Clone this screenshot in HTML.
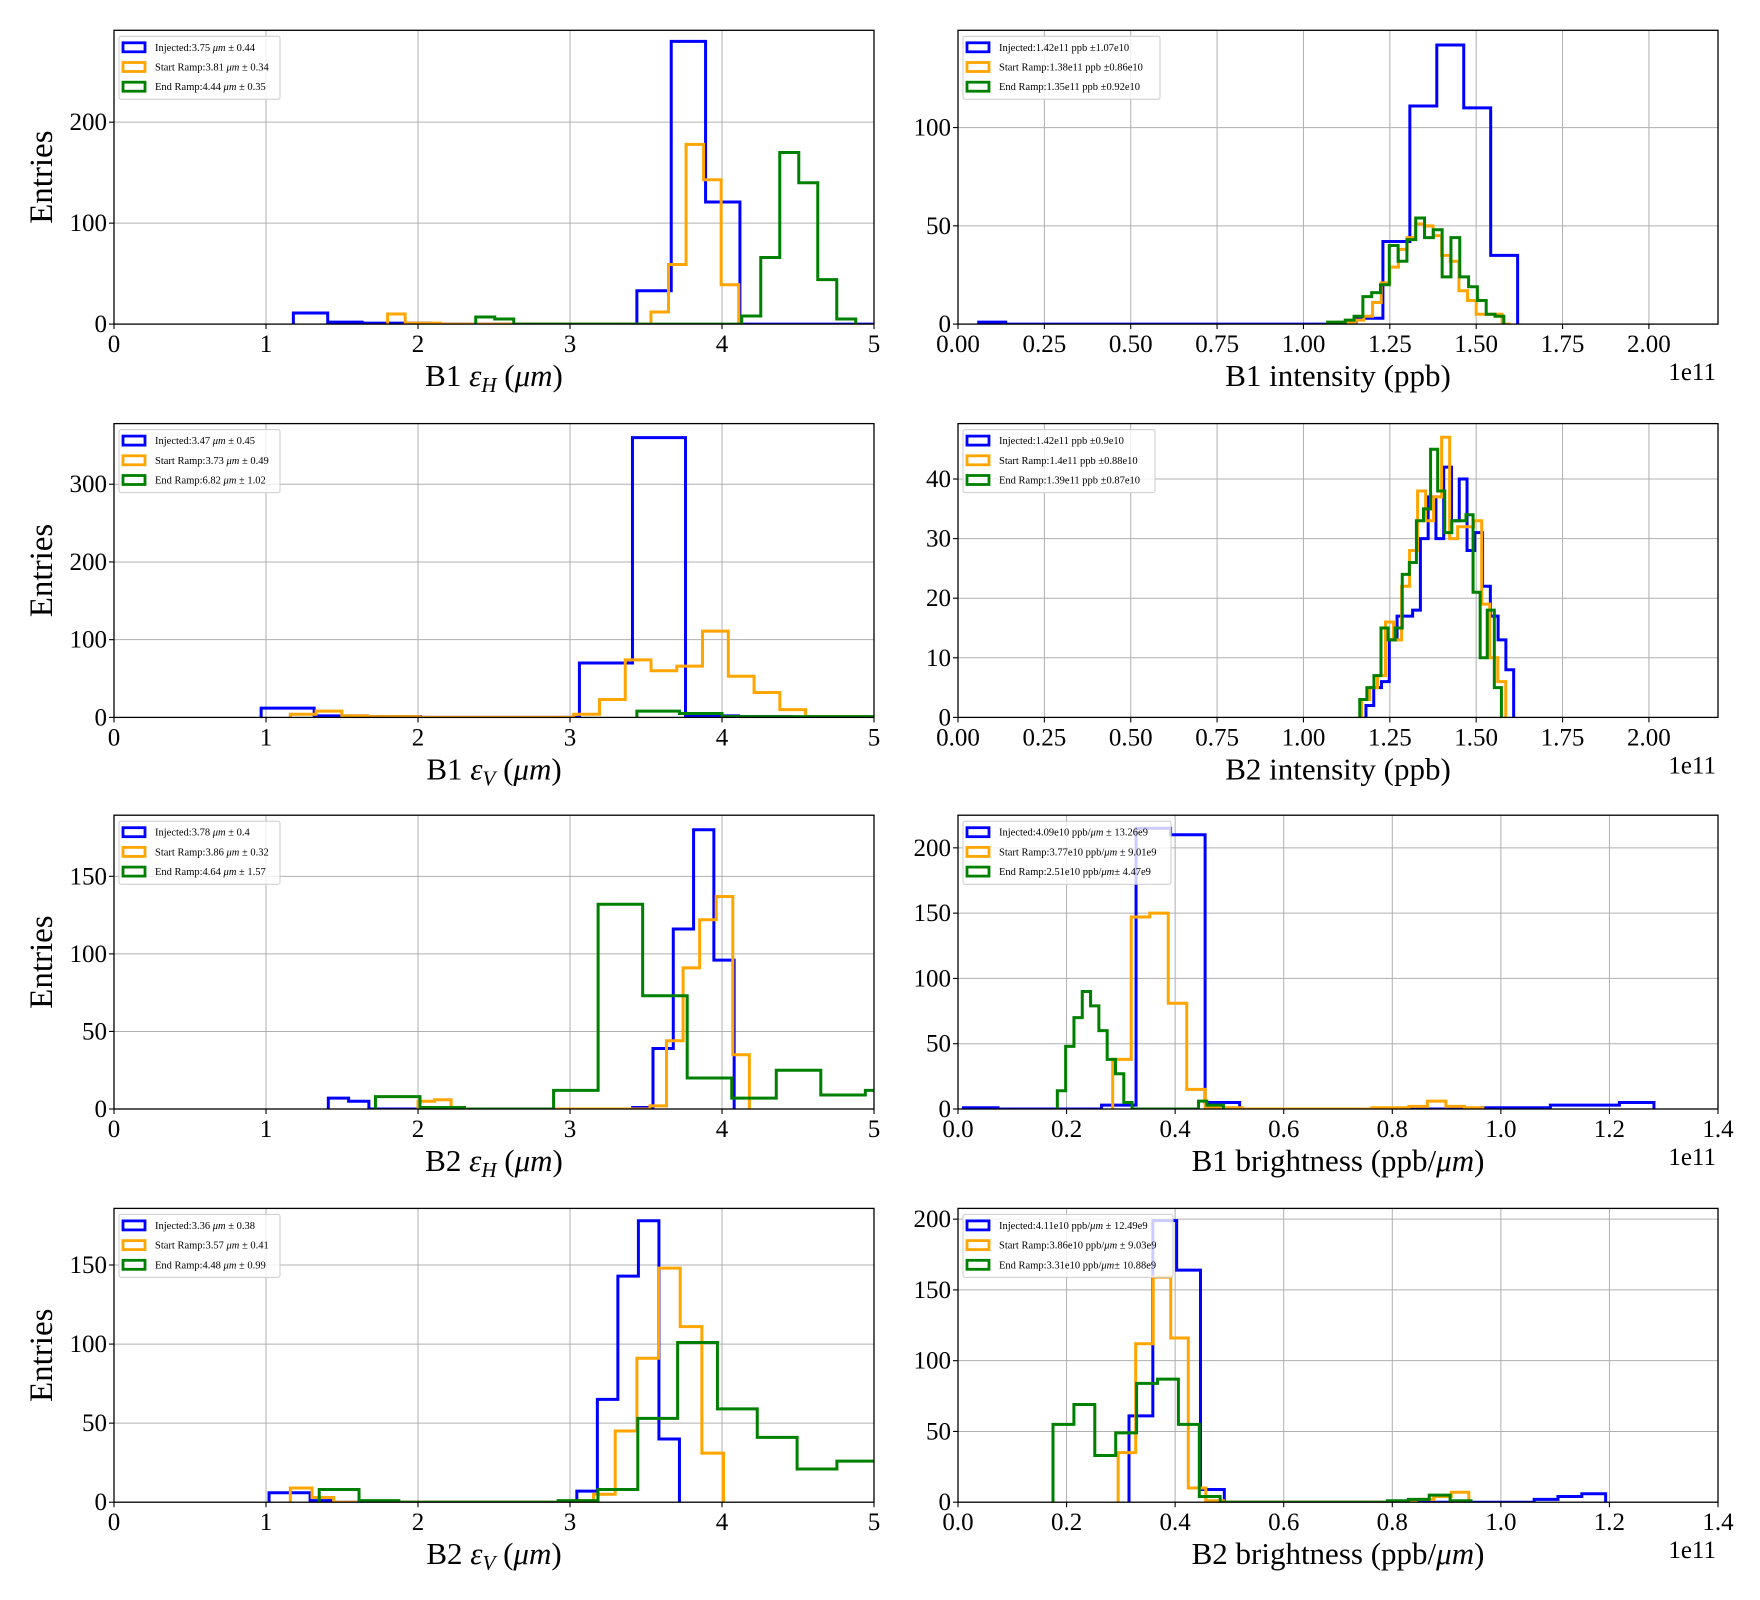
<!DOCTYPE html>
<html><head><meta charset="utf-8">
<style>
html,body{margin:0;padding:0;background:#fff;}
svg{display:block;font-family:"Liberation Serif","DejaVu Serif",serif;}
</style></head>
<body>
<svg id="fig" width="1760" height="1600" viewBox="0 0 1760 1600" xmlns="http://www.w3.org/2000/svg"></svg>
<script>
// ---------- data ----------
const epsTicks = [0,1,2,3,4,5];
const intTicks = [0.00,0.25,0.50,0.75,1.00,1.25,1.50,1.75,2.00];
const intTickLabels = ["0.00","0.25","0.50","0.75","1.00","1.25","1.50","1.75","2.00"];
const briTicks = [0.0,0.2,0.4,0.6,0.8,1.0,1.2,1.4];
const briTickLabels = ["0.0","0.2","0.4","0.6","0.8","1.0","1.2","1.4"];

// Panel 1: B1 eps_H
const p1Y = [0,100,200];
const p1BlueBins = [1.18,0.226]; const p1Blue = [11,2,1,1,0,0,0,0,0,0,33,280,121,0,0,0,0,0];
const p1OrangeBins = [1.8,0.1155]; const p1Orange = [10,1,1,0,0,0,0,0,0,0,0,0,0,0,0,12,59,178,143,39];
const p1GreenBins = [2.38,0.125]; const p1Green = [7,5,0,0,0,0,0,0,0,0,0,0,0,0,8,66,170,140,44,5];
const p1Legend = ["Injected:3.75 μm ± 0.44","Start Ramp:3.81 μm ± 0.34","End Ramp:4.44 μm ± 0.35"];

// Panel 2: B1 intensity
const p2Y = [0,50,100];
const p2BlueBins = [0.06,0.078]; const p2Blue = [1,0,0,0,0,0,0,0,0,0,0,0,0,0,3,42,111,142,110,35];
const p2OrangeBins = [1.10,0.025]; const p2Orange = [0,1,2,4,11,21,29,38,44,51,50,45,35,32,17,12,5,5,5,0];
const p2GreenBins = [1.07,0.0255]; const p2Green = [1,1,2,4,14,16,20,40,32,43,54,44,48,24,44,24,19,12,5,4];
const p2Legend = ["Injected:1.42e11 ppb ±1.07e10","Start Ramp:1.38e11 ppb ±0.86e10","End Ramp:1.35e11 ppb ±0.92e10"];

// Panel 3: B1 eps_V
const p3Y = [0,100,200,300];
const p3BlueBins = [0.968,0.349]; const p3Blue = [12,2,1,0,0,0,70,360,2,1,0,0];
const p3OrangeBins = [1.16,0.1695]; const p3Orange = [4,8,2,1,1,0,0,0,0,0,0,4,23,74,60,66,111,53,32,10,1,1,1];
const p3GreenBins = [3.44,0.28]; const p3Green = [8,5,1,1,1,1];
const p3Legend = ["Injected:3.47 μm ± 0.45","Start Ramp:3.73 μm ± 0.49","End Ramp:6.82 μm ± 1.02"];

// Panel 4: B2 intensity
const p4Y = [0,10,20,30,40];
const p4BlueBins = [1.181,0.0225]; const p4Blue = [2,5,6,13,17,17,18,30,37,30,42,33,40,28,31,22,17,13,8];
const p4OrangeBins = [1.168,0.0232]; const p4Orange = [3,5,7,16,13,22,28,38,33,37,47,30,32,32,33,19,10,6];
const p4GreenBins = [1.163,0.0205]; const p4Green = [3,5,7,15,13,15,24,26,33,35,45,38,31,33,33,34,21,10,18,5];
const p4Legend = ["Injected:1.42e11 ppb ±0.9e10","Start Ramp:1.4e11 ppb ±0.88e10","End Ramp:1.39e11 ppb ±0.87e10"];

// Panel 5: B2 eps_H
const p5Y = [0,50,100,150];
const p5BlueBins = [1.41,0.1335]; const p5Blue = [7,5,0,0,0,0,0,0,0,0,0,0,0,0,0,1,39,116,180,96];
const p5OrangeBins = [2.0,0.109]; const p5Orange = [5,6,0,0,0,0,0,0,0,0,0,0,0,0,2,44,91,122,137,35];
const p5GreenBins = [1.72,0.293]; const p5Green = [8,1,0,0,12,132,73,20,7,25,9,12];
const p5Legend = ["Injected:3.78 μm ± 0.4","Start Ramp:3.86 μm ± 0.32","End Ramp:4.64 μm ± 1.57"];

// Panel 6: B1 brightness
const p6Y = [0,50,100,150,200];
const p6BlueBins = [0.01,0.0636]; const p6Blue = [1,0,0,0,3,215,210,5,0,0,0,0,0,0,0,1,1,3,3,5];
const p6OrangeBins = [0.285,0.0341]; const p6Orange = [38,147,150,81,15,1,1,0,0,0,0,0,0,0,1,1,2,6,2,1];
const p6GreenBins = [0.183,0.0153]; const p6Green = [14,48,70,90,79,60,38,27,5,0,0,0,0,0,0,0,0,6,3,3];
const p6Legend = ["Injected:4.09e10 ppb/μm ± 13.26e9","Start Ramp:3.77e10 ppb/μm ± 9.01e9","End Ramp:2.51e10 ppb/μm± 4.47e9"];

// Panel 7: B2 eps_V
const p7Y = [0,50,100,150];
const p7BlueBins = [1.02,0.135]; const p7Blue = [6,6,1,0,0,0,0,0,0,0,0,0,0,0,0,7,65,143,178,40];
const p7OrangeBins = [1.16,0.1425]; const p7Orange = [9,3,0,0,0,0,0,0,0,0,0,0,0,0,5,45,91,148,111,31];
const p7GreenBins = [1.35,0.262]; const p7Green = [8,1,0,0,0,0,1,8,53,101,59,41,21,26,6];
const p7Legend = ["Injected:3.36 μm ± 0.38","Start Ramp:3.57 μm ± 0.41","End Ramp:4.48 μm ± 0.99"];

// Panel 8: B2 brightness
const p8Y = [0,50,100,150,200];
const p8BlueBins = [0.315,0.0439]; const p8Blue = [61,199,164,9,0,0,0,0,0,0,0,0,0,0,0,0,0,2,4,6];
const p8OrangeBins = [0.295,0.0323]; const p8Orange = [35,112,159,116,10,1,0,0,0,0,0,0,0,0,0,0,0,2,4,7];
const p8GreenBins = [0.175,0.0385]; const p8Green = [55,69,33,49,84,87,55,4,0,0,0,0,0,0,0,0,1,2,5,1];
const p8Legend = ["Injected:4.11e10 ppb/μm ± 12.49e9","Start Ramp:3.86e10 ppb/μm ± 9.03e9","End Ramp:3.31e10 ppb/μm± 10.88e9"];

// ---------- layout ----------
const NS = "http://www.w3.org/2000/svg";
const svg = document.getElementById('fig');
const COLORS = ["#0000ff","#ffa500","#008000"];
const LEFT = [114, 874], RIGHT = [958, 1718];
const TOPS = [30.3, 423.6, 815.2, 1208.4];
const H = 293.8;

function mk(tag, attrs, parent){
  const e = document.createElementNS(NS, tag);
  for (const k in attrs) e.setAttribute(k, attrs[k]);
  (parent||svg).appendChild(e);
  return e;
}

const panels = [
  {id:1, cols:LEFT, top:TOPS[0], xmax:5, ymax:291, xt:epsTicks, xtl:epsTicks.map(String), yt:p1Y, series:[[p1BlueBins,p1Blue],[p1OrangeBins,p1Orange],[p1GreenBins,p1Green]], legend:p1Legend, lw:161, label:["B1","H"], entries:true},
  {id:2, cols:RIGHT, top:TOPS[0], xmax:2.2, ymax:149.5, xt:intTicks, xtl:intTickLabels, yt:p2Y, series:[[p2BlueBins,p2Blue],[p2OrangeBins,p2Orange],[p2GreenBins,p2Green]], legend:p2Legend, lw:197, label:"B1 intensity (ppb)", exp:true},
  {id:3, cols:LEFT, top:TOPS[1], xmax:5, ymax:378, xt:epsTicks, xtl:epsTicks.map(String), yt:p3Y, series:[[p3BlueBins,p3Blue],[p3OrangeBins,p3Orange],[p3GreenBins,p3Green]], legend:p3Legend, lw:161, label:["B1","V"], entries:true},
  {id:4, cols:RIGHT, top:TOPS[1], xmax:2.2, ymax:49.3, xt:intTicks, xtl:intTickLabels, yt:p4Y, series:[[p4BlueBins,p4Blue],[p4OrangeBins,p4Orange],[p4GreenBins,p4Green]], legend:p4Legend, lw:192, label:"B2 intensity (ppb)", exp:true},
  {id:5, cols:LEFT, top:TOPS[2], xmax:5, ymax:189.4, xt:epsTicks, xtl:epsTicks.map(String), yt:p5Y, series:[[p5BlueBins,p5Blue],[p5OrangeBins,p5Orange],[p5GreenBins,p5Green]], legend:p5Legend, lw:161, label:["B2","H"], entries:true},
  {id:6, cols:RIGHT, top:TOPS[2], xmax:1.4, ymax:225, xt:briTicks, xtl:briTickLabels, yt:p6Y, series:[[p6BlueBins,p6Blue],[p6OrangeBins,p6Orange],[p6GreenBins,p6Green]], legend:p6Legend, lw:208, label:"B1 brightness (ppb/μm)", exp:true},
  {id:7, cols:LEFT, top:TOPS[3], xmax:5, ymax:185.8, xt:epsTicks, xtl:epsTicks.map(String), yt:p7Y, series:[[p7BlueBins,p7Blue],[p7OrangeBins,p7Orange],[p7GreenBins,p7Green]], legend:p7Legend, lw:161, label:["B2","V"], entries:true},
  {id:8, cols:RIGHT, top:TOPS[3], xmax:1.4, ymax:207.6, xt:briTicks, xtl:briTickLabels, yt:p8Y, series:[[p8BlueBins,p8Blue],[p8OrangeBins,p8Orange],[p8GreenBins,p8Green]], legend:p8Legend, lw:210, label:"B2 brightness (ppb/μm)", exp:true}
];

function addItalicMu(textEl, str){
  const parts = str.split("μm");
  parts.forEach((p,i)=>{
    if (p) textEl.appendChild(document.createTextNode(p));
    if (i < parts.length-1){
      const t = mk('tspan', {'font-style':'italic'}, textEl);
      t.textContent = "μm";
    }
  });
}

const seriesNames = ["injected","start-ramp","end-ramp"];

panels.forEach(P=>{
  const x0 = P.cols[0], x1 = P.cols[1], y0 = P.top, y1 = P.top + H;
  const sx = v => x0 + (v / P.xmax) * (x1 - x0);
  const sy = v => y1 - (v / P.ymax) * (y1 - y0);
  const g = mk('g', {});
  
  

  const clip = mk('clipPath', {id:'clip'+P.id}, g);
  mk('rect', {x:x0, y:y0, width:x1-x0, height:H}, clip);

  const grid = mk('g', {stroke:'#b0b0b0','stroke-width':1}, g);
  
  
  P.xt.forEach(v=>{ const X=sx(v); if (X>x0+0.5 && X<x1-0.5) mk('line',{x1:X,x2:X,y1:y0,y2:y1},grid); });
  P.yt.forEach(v=>{ const Y=sy(v); if (Y>y0+0.5 && Y<y1-0.5) mk('line',{x1:x0,x2:x1,y1:Y,y2:Y},grid); });

  const hg = mk('g', {'clip-path':'url(#clip'+P.id+')'}, g);
  P.series.forEach((s,i)=>{
    const start = s[0][0], w = s[0][1], counts = s[1];
    let pts = [[sx(start), sy(0)]];
    counts.forEach((c,k)=>{
      const a = start + k*w, b = start + (k+1)*w;
      pts.push([sx(a), sy(c)]); pts.push([sx(b), sy(c)]);
    });
    pts.push([sx(start + counts.length*w), sy(0)]);
    const pl = mk('polyline', {points: pts.map(p=>p[0].toFixed(2)+','+p[1].toFixed(2)).join(' '), fill:'none', stroke:COLORS[i], 'stroke-width':3, 'stroke-linejoin':'miter'}, hg);
    
    
  });

  const sp = mk('rect', {x:x0, y:y0, width:x1-x0, height:H, fill:'none', stroke:'#000','stroke-width':1.3}, g);
  
  

  const tg = mk('g', {'font-size':25, fill:'#000'}, g);
  
  
  P.xt.forEach((v,k)=>{
    const X = sx(v);
    mk('line',{x1:X,x2:X,y1:y1,y2:y1+5,stroke:'#000','stroke-width':1.1},tg);
    const t = mk('text',{x:X,y:y1+28,'text-anchor':'middle'},tg);
    t.textContent = P.xtl[k];
  });
  P.yt.forEach(v=>{
    const Y = sy(v);
    mk('line',{x1:x0-5,x2:x0,y1:Y,y2:Y,stroke:'#000','stroke-width':1.1},tg);
    const t = mk('text',{x:x0-7,y:Y+8,'text-anchor':'end'},tg);
    t.textContent = String(v);
  });

  const cx = (x0+x1)/2;
  const xl = mk('text', {x:cx, y:y1+62, 'text-anchor':'middle', 'font-size':31}, g);
  
  
  if (Array.isArray(P.label)){
    xl.appendChild(document.createTextNode(P.label[0] + " "));
    const e1 = mk('tspan', {'font-style':'italic'}, xl); e1.textContent = "ε";
    const e2 = mk('tspan', {'font-style':'italic','font-size':21, dy:6}, xl); e2.textContent = P.label[1];
    const e3 = mk('tspan', {dy:-6}, xl); e3.textContent = " (";
    const e4 = mk('tspan', {'font-style':'italic'}, xl); e4.textContent = "μm";
    xl.appendChild(document.createTextNode(")"));
  } else {
    addItalicMu(xl, P.label);
  }
  if (P.exp){
    const ex = mk('text', {x:x1-2, y:y1+56, 'text-anchor':'end', 'font-size':25}, g);
    
    
    ex.textContent = "1e11";
  }
  if (P.entries){
    const yl = mk('text', {x:0, y:0, 'text-anchor':'middle', 'font-size':33, transform:'translate(52,'+((y0+y1)/2)+') rotate(-90)'}, g);
    
    
    yl.textContent = "Entries";
  }

  const lg = mk('g', {}, g);
  
  
  const lx = x0 + 5, ly = y0 + 6;
  mk('rect', {x:lx, y:ly, width:P.lw, height:63, rx:2, fill:'#fff','fill-opacity':0.8, stroke:'#cccccc','stroke-width':1}, lg);
  P.legend.forEach((lab,i)=>{
    const cy = ly + 11 + i*19.7;
    const ent = mk('g', {}, lg);
    
    
    mk('rect', {x:lx+4, y:cy-4.5, width:22, height:9, fill:'none', stroke:COLORS[i], 'stroke-width':2.8}, ent);
    const t = mk('text', {x:lx+36, y:cy+3.5, 'font-size':10.5}, ent);
    addItalicMu(t, lab);
  });
});
</script>
</body></html>
